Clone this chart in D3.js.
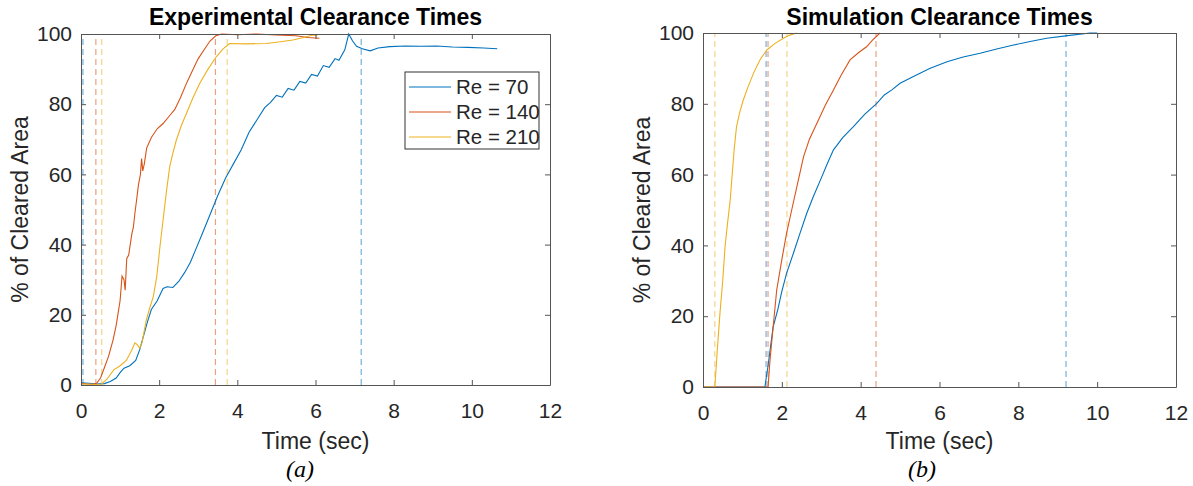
<!DOCTYPE html>
<html>
<head>
<meta charset="utf-8">
<script src="https://cdn.jsdelivr.net/npm/d3@7"></script>
<style>
  body { margin: 0; background: #fff; }
  svg text { font-family: "Liberation Sans", Arial, sans-serif; fill: #262626; }
</style>
</head>
<body>
<div class="svg-container"></div>
<script>
// series names and colours (MATLAB default order)
var seriesNames = ["Re = 70", "Re = 140", "Re = 210"];
var seriesColors = ["#0072BD", "#D95319", "#EDB120"];

var xTicks = [0, 2, 4, 6, 8, 10, 12];
var yTicks = [0, 20, 40, 60, 80, 100];

// experimental curves: [time (sec), % cleared]
var exp70 = [[0,0.6],[0.2,0.5],[0.4,0.3],[0.6,0.4],[0.75,1],[0.9,2],[1.0,3.5],[1.1,4.8],[1.25,5.5],[1.4,7],
  [1.5,10],[1.6,14],[1.7,18],[1.8,21.5],[1.95,24],[2.1,27.5],[2.2,28],[2.35,27.8],[2.5,29.5],[2.65,32],
  [2.8,35],[2.95,39],[3.1,43],[3.3,48.5],[3.5,54],[3.7,59],[3.9,63],[4.1,67],[4.3,72],[4.5,75.5],
  [4.7,79],[4.85,80.5],[5.0,82.5],[5.15,82],[5.3,84.5],[5.45,84],[5.6,86.5],[5.75,86],[5.9,88.5],[6.05,88],
  [6.2,91],[6.35,90.5],[6.5,93],[6.6,92.5],[6.75,95.5],[6.85,100],[6.95,98],[7.05,96.5],[7.2,95.8],[7.4,95.2],
  [7.6,96],[7.9,96.4],[8.3,96.6],[8.7,96.5],[9.1,96.6],[9.5,96.3],[9.9,96.2],[10.3,96],[10.65,95.8]];
var exp140 = [[0,0.5],[0.15,0.3],[0.3,0.2],[0.4,0.5],[0.5,2],[0.6,5],[0.7,8],[0.82,12.8],[0.9,17],[1.0,24],
  [1.05,31],[1.1,30],[1.13,27],[1.17,36],[1.22,37],[1.26,40],[1.3,43],[1.34,45],[1.38,49],[1.42,52.5],
  [1.47,57],[1.52,60],[1.55,64.5],[1.58,61],[1.62,63],[1.68,67.5],[1.8,70.5],[1.95,73],[2.1,74.5],[2.25,76.5],
  [2.4,78.5],[2.55,82],[2.7,86],[2.85,89.5],[3.0,93],[3.15,95.5],[3.3,98],[3.45,99.5],[3.6,100],[4.0,99.8],
  [4.5,100],[5.0,99.7],[5.5,99.5],[5.8,99],[6.1,98.8]];
var exp210 = [[0,0.3],[0.3,0.2],[0.5,0],[0.65,1.5],[0.84,4.3],[1.0,5.5],[1.16,7],[1.3,10],[1.38,12],[1.44,11.5],
  [1.5,10.5],[1.56,12],[1.67,18.5],[1.76,22],[1.85,25.2],[1.94,31],[2.02,39.4],[2.1,47],[2.19,55.5],[2.27,62.2],
  [2.35,66],[2.44,69.8],[2.57,74],[2.7,77.4],[2.87,82],[3.04,86],[3.25,90],[3.46,93.5],[3.63,95.7],[3.8,97.3],
  [4.2,97.2],[4.74,97.3],[5.1,97.8],[5.42,98.3],[5.7,99],[5.93,99.7],[6.05,99.5]];

// simulation curves
var sim70 = [[0,0],[1.57,0],[1.65,6],[1.72,12],[1.78,17],[1.9,22],[2.0,27],[2.12,32.1],[2.3,38],[2.46,43.4],
  [2.63,49],[2.8,53.8],[3.0,59],[3.15,63],[3.31,67],[3.55,70.5],[3.81,73.5],[4.1,77],[4.41,80.1],[4.6,82.5],
  [4.8,84],[5.0,85.8],[5.34,87.7],[5.75,90],[6.19,91.9],[6.6,93.2],[7.03,94.3],[7.45,95.5],[7.88,96.6],[8.3,97.6],
  [8.72,98.5],[9.2,99.2],[9.82,100],[10.0,100]];
var sim140 = [[0,0],[1.65,0],[1.7,7.6],[1.78,17],[1.87,27.4],[2.0,36],[2.12,43.4],[2.25,50],[2.42,58.5],[2.55,65],
  [2.7,70],[2.89,74.5],[3.1,79.5],[3.31,83.9],[3.5,88],[3.73,92.4],[3.95,94.5],[4.15,96.1],[4.3,98],[4.49,100]];
var sim210 = [[0,0],[0.3,0],[0.36,10],[0.43,20.8],[0.5,30],[0.56,39.6],[0.62,46],[0.69,52.8],[0.73,58.5],[0.79,67],
  [0.85,73.5],[0.93,77.5],[1.02,81],[1.15,85],[1.28,88.6],[1.45,92.5],[1.62,95.2],[1.82,97],[2.04,98.5],[2.2,99.4],
  [2.38,100]];

// clearance start / end times (dashed markers), one pair per series
var expClear = [[0.05, 7.17], [0.38, 3.44], [0.53, 3.74]];
var simClear = [[1.6, 9.21], [1.65, 4.39], [0.3, 2.13]];

var width = 1193, height = 486;

var svg = d3.select('.svg-container').append('svg')
  .attr('width', width)
  .attr('height', height);

function drawPanel(opts) {
  var x = d3.scaleLinear().domain([0, 12]).range([opts.left, opts.right]);
  var y = d3.scaleLinear().domain([0, 100]).range([opts.bottom, opts.top]);
  var g = svg.append('g');

  // dashed clearance markers
  opts.clear.forEach(function(pair, i) {
    g.selectAll(null).data(pair).enter().append('line')
      .attr('x1', function(d) { return x(d); })
      .attr('x2', function(d) { return x(d); })
      .attr('y1', y(0))
      .attr('y2', y(100))
      .attr('stroke', seriesColors[i])
      .attr('stroke-opacity', 0.55)
      .attr('stroke-width', 1.2)
      .attr('stroke-dasharray', '6,4');
  });

  var line = d3.line()
    .x(function(d) { return x(d[0]); })
    .y(function(d) { return y(d[1]); });

  g.selectAll('.curve').data(opts.series).enter().append('path')
    .attr('class', 'curve')
    .attr('d', line)
    .attr('fill', 'none')
    .attr('stroke', function(d, i) { return seriesColors[i]; })
    .attr('stroke-width', 1.1);

  // axes, ticks inside, box on
  var frame = '#555';
  var xb = g.append('g').attr('transform', 'translate(0,' + opts.bottom + ')')
    .call(d3.axisBottom(x).tickValues(xTicks).tickSizeInner(-5).tickSizeOuter(0).tickPadding(18));
  var xt = g.append('g').attr('transform', 'translate(0,' + opts.top + ')')
    .call(d3.axisTop(x).tickValues(xTicks).tickSizeInner(-5).tickSizeOuter(0).tickFormat(''));
  var yl = g.append('g').attr('transform', 'translate(' + opts.left + ',0)')
    .call(d3.axisLeft(y).tickValues(yTicks).tickSizeInner(-5).tickSizeOuter(0).tickPadding(9));
  var yr = g.append('g').attr('transform', 'translate(' + opts.right + ',0)')
    .call(d3.axisRight(y).tickValues(yTicks).tickSizeInner(-5).tickSizeOuter(0).tickFormat(''));
  [xb, xt, yl, yr].forEach(function(a) {
    a.selectAll('path, line').attr('stroke', frame);
    a.selectAll('text').attr('font-size', 21).attr('fill', '#262626')
      .style('font-family', '"Liberation Sans", Arial, sans-serif');
  });

  g.append('text')
    .attr('x', (opts.left + opts.right) / 2)
    .attr('y', 25)
    .attr('text-anchor', 'middle')
    .attr('font-size', 23)
    .attr('font-weight', 'bold')
    .style('fill', '#000')
    .text(opts.title);

  g.append('text')
    .attr('transform', 'translate(' + (opts.left - 53) + ',' + ((opts.top + opts.bottom) / 2) + ') rotate(-90)')
    .attr('text-anchor', 'middle')
    .attr('font-size', 23)
    .text('% of Cleared Area');

  g.append('text')
    .attr('x', (opts.left + opts.right) / 2)
    .attr('y', 449)
    .attr('text-anchor', 'middle')
    .attr('font-size', 23)
    .text('Time (sec)');

  g.append('text')
    .attr('x', opts.captionX)
    .attr('y', 477)
    .attr('text-anchor', 'middle')
    .attr('font-size', 24)
    .attr('font-style', 'italic')
    .style('font-family', '"Liberation Serif", "Times New Roman", serif')
    .style('fill', '#000')
    .text(opts.caption);

  return { g: g, x: x, y: y };
}

var pa = drawPanel({
  left: 81, right: 550, top: 34, bottom: 385,
  series: [exp70, exp140, exp210], clear: expClear,
  title: 'Experimental Clearance Times', caption: '(a)', captionX: 300
});

drawPanel({
  left: 703, right: 1176, top: 33, bottom: 387,
  series: [sim70, sim140, sim210], clear: simClear,
  title: 'Simulation Clearance Times', caption: '(b)', captionX: 922
});

// legend in the experimental panel
var legend = pa.g.append('g').attr('transform', 'translate(405,72)');
legend.append('rect')
  .attr('width', 134).attr('height', 77)
  .attr('fill', '#fff').attr('stroke', '#333').attr('stroke-width', 1);
var items = legend.selectAll('.item').data(seriesNames).enter().append('g')
  .attr('transform', function(d, i) { return 'translate(0,' + (15 + i * 25) + ')'; });
items.append('line')
  .attr('x1', 4).attr('x2', 46)
  .attr('stroke', function(d, i) { return seriesColors[i]; })
  .attr('stroke-width', 1.1);
items.append('text')
  .attr('x', 51).attr('y', 7)
  .attr('font-size', 20.5)
  .text(function(d) { return d; });
</script>
</body>
</html>
